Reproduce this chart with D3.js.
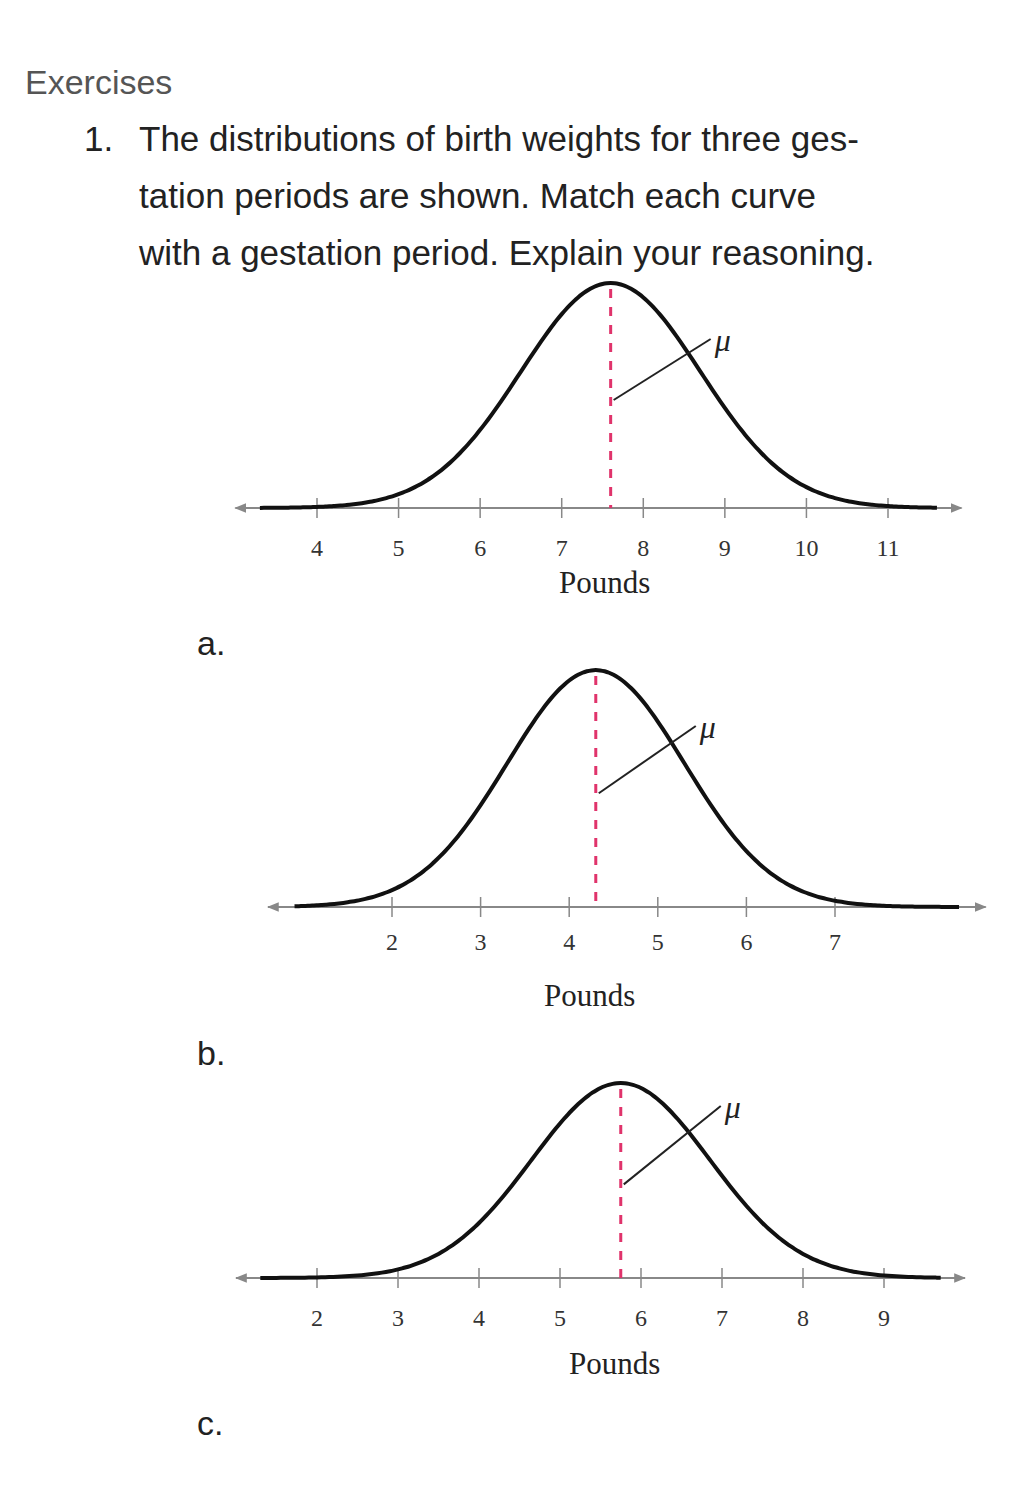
<!DOCTYPE html>
<html><head><meta charset="utf-8">
<script src="https://cdn.jsdelivr.net/npm/d3@7.9.0/dist/d3.min.js"></script>
<style>body{margin:0;background:#fff}</style></head>
<body><svg width="1024" height="1498"></svg>
<script>
// one panel per gestation period
const labels = ['a.', 'b.', 'c.'];
const ticksA = [4, 5, 6, 7, 8, 9, 10, 11];
const ticksB = [2, 3, 4, 5, 6, 7];
const ticksC = [2, 3, 4, 5, 6, 7, 8, 9];
const means = [7.6, 4.3, 5.75];
const sigmas = [1.1, 1.0, 1.1];
const domains = [[3.3, 11.6], [0.9, 8.4], [1.3, 9.7]];

const panels = [
  {ticks: ticksA, x0: 317, x1: 888, axisY: 508, peak: 283, labY: 655, muY: 343, tickLab: 556, pounds: 593},
  {ticks: ticksB, x0: 392, x1: 835, axisY: 907, peak: 670, labY: 1065, muY: 730, tickLab: 950, pounds: 1006},
  {ticks: ticksC, x0: 317, x1: 884, axisY: 1278, peak: 1083, labY: 1435, muY: 1110, tickLab: 1326, pounds: 1374}
];

const svg = d3.select('svg');
svg.append('defs').append('marker').attr('id', 'arr').attr('viewBox', '0 0 10 10')
  .attr('refX', 9).attr('refY', 5).attr('markerWidth', 6).attr('markerHeight', 6).attr('orient', 'auto-start-reverse')
  .append('path').attr('d', 'M0,1L10,5L0,9z').attr('fill', '#888');

svg.append('text').attr('x', 25).attr('y', 94).attr('font-family', 'Helvetica, Arial, sans-serif')
  .attr('font-size', 34).attr('fill', '#555').text('Exercises');
const lines = ['The distributions of birth weights for three ges-', 'tation periods are shown. Match each curve', 'with a gestation period. Explain your reasoning.'];
svg.append('text').attr('x', 84).attr('y', 151).attr('font-family', 'Helvetica, Arial, sans-serif')
  .attr('font-size', 35).attr('fill', '#222').text('1.');
lines.forEach((t, i) => svg.append('text').attr('x', 139).attr('y', 151 + i * 57)
  .attr('font-family', 'Helvetica, Arial, sans-serif').attr('font-size', 35).attr('fill', '#222').text(t));

panels.forEach((p, i) => {
  const t = p.ticks;
  const x = d3.scaleLinear().domain([t[0], t[t.length - 1]]).range([p.x0, p.x1]);
  const y = d3.scaleLinear().domain([0, 1]).range([p.axisY, p.peak]);
  const g = svg.append('g');
  const [d0, d1] = domains[i];
  g.append('line').attr('x1', x(d0 - 0.3)).attr('x2', x(d1 + 0.3)).attr('y1', p.axisY).attr('y2', p.axisY)
    .attr('stroke', '#888').attr('stroke-width', 2).attr('marker-start', 'url(#arr)').attr('marker-end', 'url(#arr)');
  g.selectAll('.tk').data(t).join('line').attr('x1', d => x(d)).attr('x2', d => x(d))
    .attr('y1', p.axisY - 10).attr('y2', p.axisY + 10).attr('stroke', '#888').attr('stroke-width', 1.5);
  g.selectAll('.tl').data(t).join('text').attr('x', d => x(d)).attr('y', p.tickLab).attr('text-anchor', 'middle')
    .attr('font-family', 'Liberation Serif, serif').attr('font-size', 24).attr('fill', '#333').text(d => d);
  g.append('text').attr('x', x(means[i]) - 6).attr('y', p.pounds).attr('text-anchor', 'middle')
    .attr('font-family', 'Liberation Serif, serif').attr('font-size', 31).attr('fill', '#222').text('Pounds');
  const mu = means[i], s = sigmas[i];
  const pts = d3.range(d0, d1 + 0.001, 0.05);
  const dens = d => { const z = (d - mu) / s; return Math.exp(-z * z / 2); };
  g.append('path').datum(pts).attr('fill', 'none').attr('stroke', '#111').attr('stroke-width', 4)
    .attr('d', d3.line().x(d => x(d)).y(d => y(dens(d))).curve(d3.curveBasis));
  g.append('line').attr('x1', x(mu)).attr('x2', x(mu)).attr('y1', p.peak + 6).attr('y2', p.axisY)
    .attr('stroke', '#e0336b').attr('stroke-width', 3).attr('stroke-dasharray', '9,9');
  const ly = y(0.48);
  g.append('line').attr('x1', x(mu) + 3).attr('y1', ly).attr('x2', x(mu) + 100).attr('y2', p.muY - 4)
    .attr('stroke', '#222').attr('stroke-width', 2);
  g.append('text').attr('x', x(mu) + 104).attr('y', p.muY + 8).attr('font-family', 'Liberation Serif, serif')
    .attr('font-style', 'italic').attr('font-size', 32).attr('fill', '#222').text('μ');
  svg.append('text').attr('x', 197).attr('y', p.labY).attr('font-family', 'Helvetica, Arial, sans-serif')
    .attr('font-size', 34).attr('fill', '#222').text(labels[i]);
});
</script></body></html>
